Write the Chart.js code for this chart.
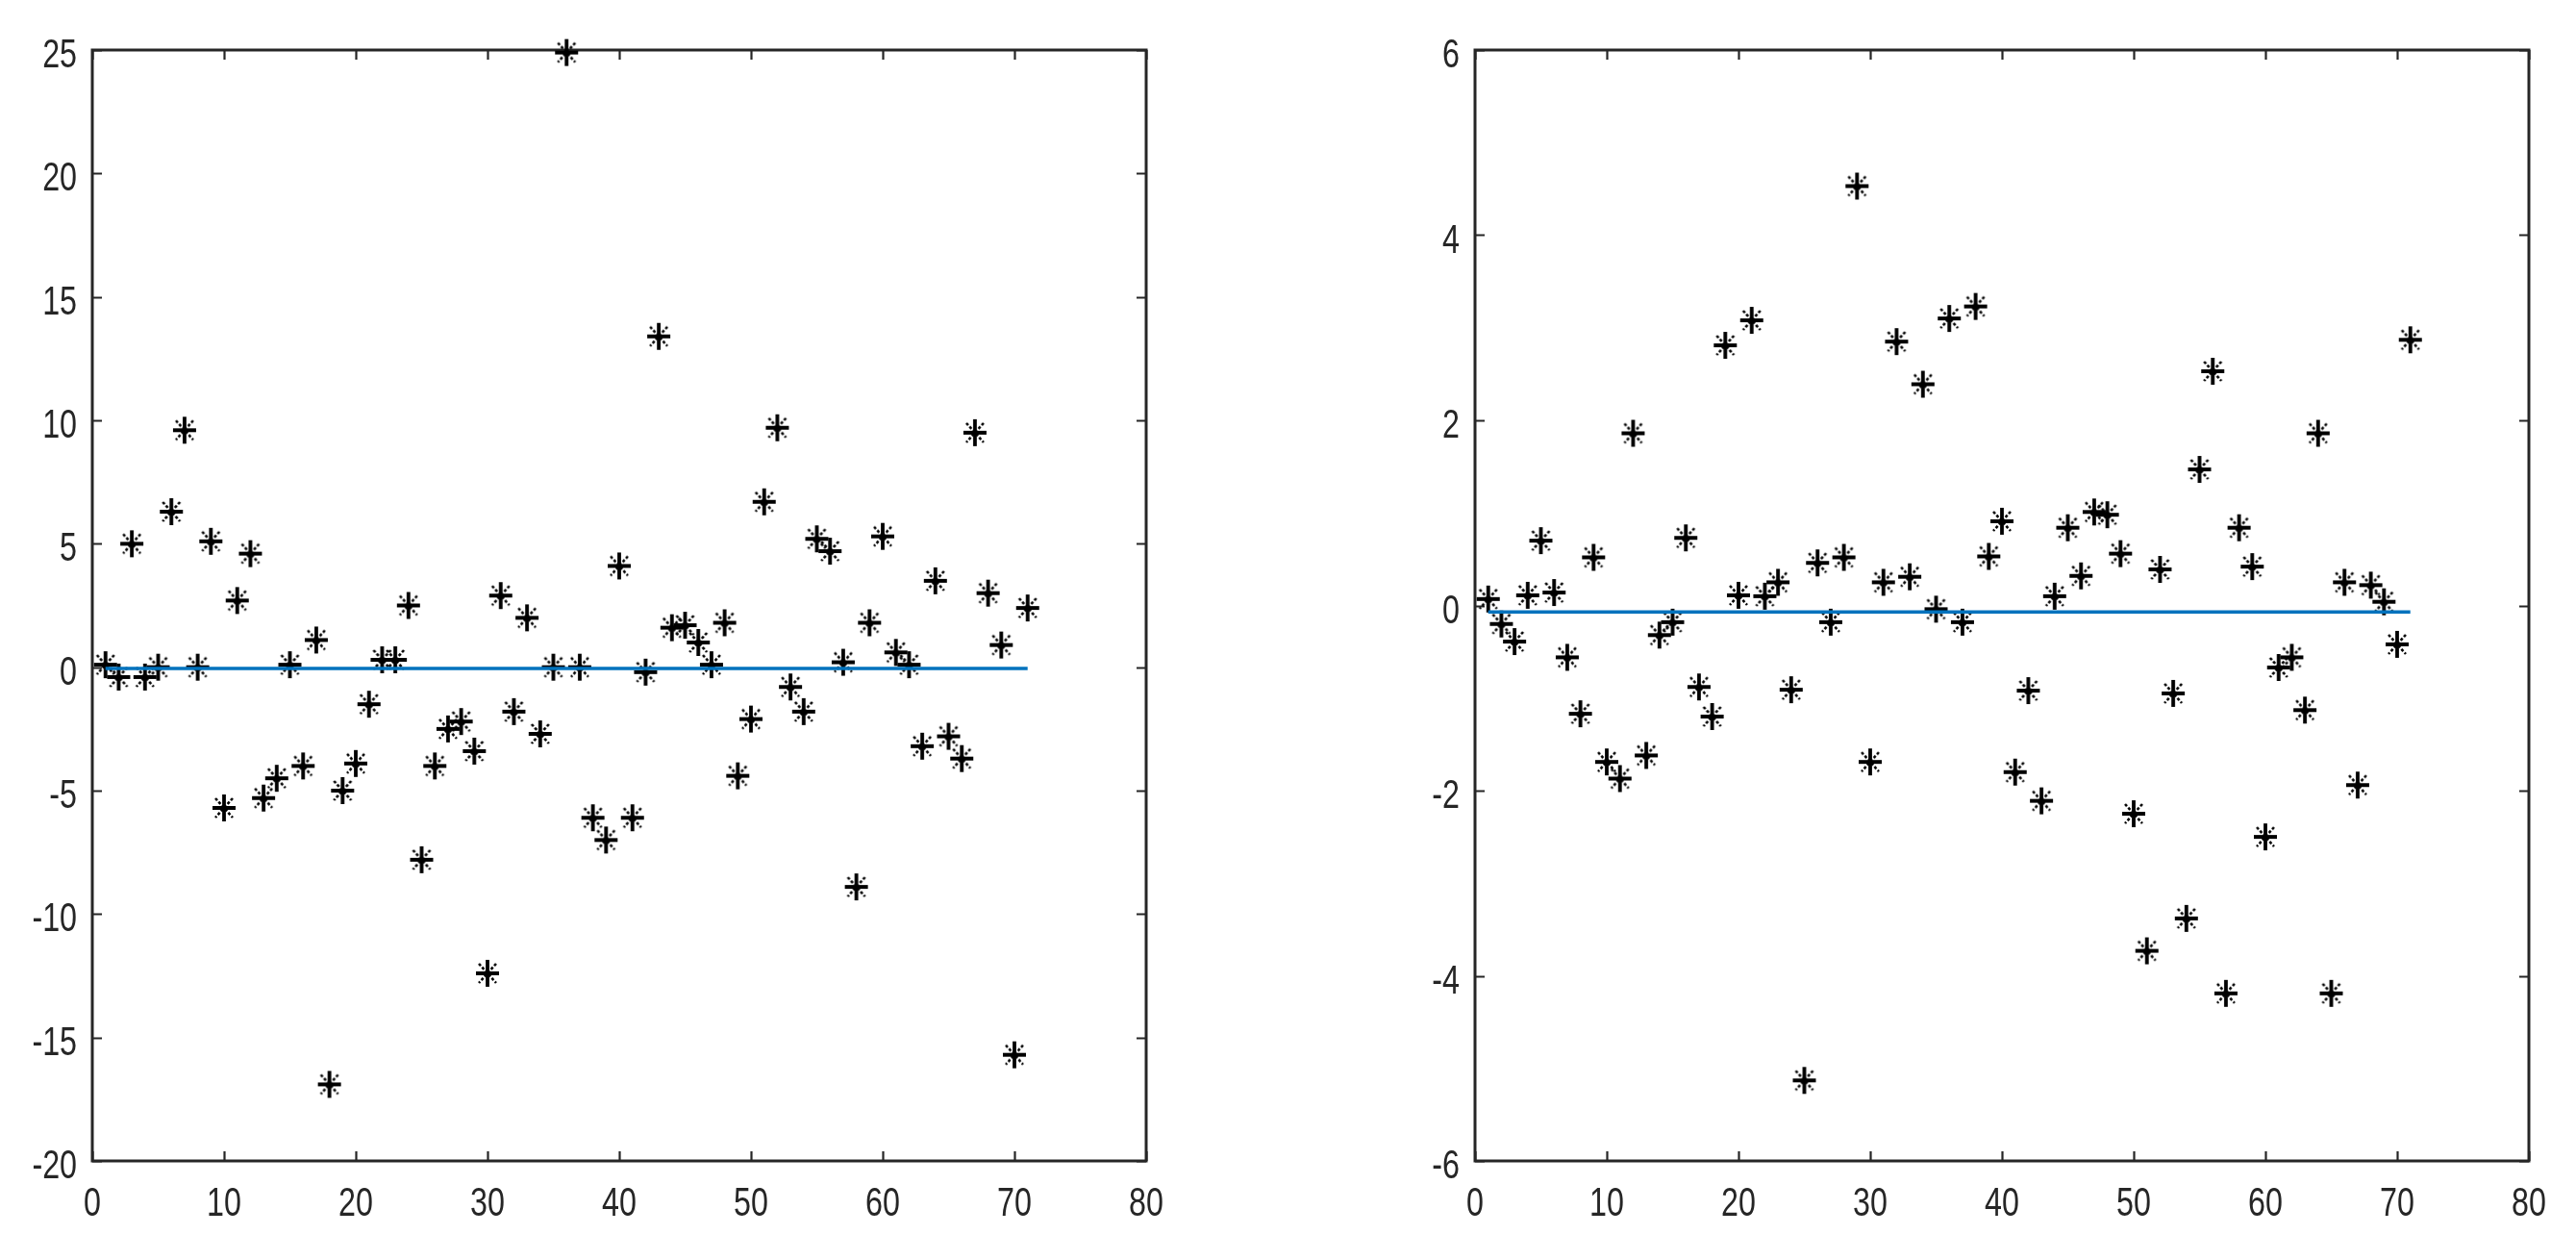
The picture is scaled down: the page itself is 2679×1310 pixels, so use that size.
<!DOCTYPE html>
<html lang="en">
<head>
<meta charset="UTF-8">
<title>Residuals</title>
<style>
  html, body { margin: 0; padding: 0; background: #fff; }
  body { width: 2679px; height: 1310px; position: relative; overflow: hidden; }
  .wrap { position: absolute; top: 0; height: 1310px; }
  #w1 { left: 0; width: 1300px; }
  #w2 { left: 1438px; width: 1241px; }
</style>
</head>
<body>
<div class="wrap" id="w1"><canvas id="left"></canvas></div>
<div class="wrap" id="w2"><canvas id="right"></canvas></div>

<script src="https://cdn.jsdelivr.net/npm/chart.js"></script>
<script>
// sample index
const sampleNo = [1,2,3,4,5,6,7,8,9,10,11,12,13,14,15,16,17,18,19,20,
  21,22,23,24,25,26,27,28,29,30,31,32,33,34,35,36,37,38,39,40,
  41,42,43,44,45,46,47,48,49,50,51,52,53,54,55,56,57,58,59,60,
  61,62,63,64,65,66,67,68,69,70,71];

// left panel values
const leftVals = [0.1,-0.4,5.0,-0.4,0.0,6.3,9.6,0.0,5.1,-5.7,
  2.7,4.6,-5.3,-4.5,0.1,-4.0,1.1,-16.9,-5.0,-3.9,
  -1.5,0.3,0.3,2.5,-7.8,-4.0,-2.5,-2.2,-3.4,-12.4,
  2.9,-1.8,2.0,-2.7,0.0,24.9,0.0,-6.1,-7.0,4.1,
  -6.1,-0.2,13.4,1.6,1.7,1.0,0.1,1.8,-4.4,-2.1,
  6.7,9.7,-0.8,-1.8,5.2,4.7,0.2,-8.9,1.8,5.3,
  0.6,0.1,-3.2,3.5,-2.8,-3.7,9.5,3.0,0.9,-15.7,2.4];

// right panel values
const rightVals = [0.07,-0.2,-0.39,0.11,0.7,0.14,-0.56,-1.17,0.52,-1.69,
  -1.87,1.86,-1.62,-0.32,-0.18,0.73,-0.88,-1.2,2.81,0.11,
  3.08,0.1,0.25,-0.91,-5.13,0.46,-0.18,0.52,4.53,-1.69,
  0.25,2.85,0.31,2.39,-0.04,3.1,-0.18,3.23,0.53,0.91,
  -1.8,-0.92,-2.11,0.1,0.84,0.32,1.01,0.98,0.56,-2.25,
  -3.73,0.39,-0.95,-3.38,1.47,2.53,-4.19,0.84,0.42,-2.5,
  -0.67,-0.56,-1.13,1.86,-4.19,0.25,-1.94,0.22,0.04,-0.42,2.87];

// mean lines (x from, x to / level)
const lineX = [1, 71];
const leftLevel = [-0.05, -0.05];
const rightLevel = [-0.07, -0.07];

// tick labels
const xTicks = [0,10,20,30,40,50,60,70,80];
const yTicksLeft = [-20,-15,-10,-5,0,5,10,15,20,25];
const yTicksRight = [-6,-4,-2,0,2,4,6];

const axisColor = '#262626';
const labelFont = "43px 'Liberation Sans', Arial, sans-serif";
const squeeze = 0.75; // the original labels are horizontally compressed

// asterisk marker like matlab '*'
function makeStar() {
  const c = document.createElement('canvas');
  c.width = 26; c.height = 30;
  const g = c.getContext('2d');
  g.strokeStyle = '#000';
  g.lineCap = 'butt';
  g.lineWidth = 3.8;
  g.beginPath();
  g.moveTo(13, 1); g.lineTo(13, 29);
  g.moveTo(1, 15); g.lineTo(25, 15);
  g.stroke();
  g.lineWidth = 2.6;
  g.setLineDash([3, 2]);
  g.beginPath();
  g.moveTo(4, 5); g.lineTo(22, 25);
  g.moveTo(22, 5); g.lineTo(4, 25);
  g.stroke();
  return c;
}
const star = makeStar();

// box, inward ticks and tick labels
const boxPlugin = {
  id: 'matlabBox',
  beforeDatasetsDraw(chart) {
    const { ctx, chartArea: { left, right, top, bottom }, scales: { x, y } } = chart;
    const len = 10;
    ctx.save();
    ctx.strokeStyle = axisColor;
    ctx.lineWidth = 2.2;
    ctx.beginPath();
    x.ticks.forEach(t => {
      const px = Math.round(x.getPixelForValue(t.value)) + 0.5;
      ctx.moveTo(px, bottom); ctx.lineTo(px, bottom - len);
      ctx.moveTo(px, top); ctx.lineTo(px, top + len);
    });
    y.ticks.forEach(t => {
      const py = Math.round(y.getPixelForValue(t.value)) + 0.5;
      ctx.moveTo(left, py); ctx.lineTo(left + len, py);
      ctx.moveTo(right, py); ctx.lineTo(right - len, py);
    });
    ctx.stroke();
    ctx.lineWidth = 3;
    ctx.strokeRect(left, top, right - left, bottom - top);

    ctx.fillStyle = axisColor;
    ctx.font = labelFont;
    ctx.textBaseline = 'alphabetic';
    ctx.textAlign = 'center';
    x.ticks.forEach(t => {
      const s = String(t.value);
      const w = ctx.measureText(s).width;
      ctx.fillText(s, x.getPixelForValue(t.value), bottom + 57, w * squeeze);
    });
    ctx.textAlign = 'right';
    y.ticks.forEach(t => {
      const s = String(t.value);
      const w = ctx.measureText(s).width;
      ctx.fillText(s, left - 16, y.getPixelForValue(t.value) + 18, w * squeeze);
    });
    ctx.restore();
  }
};

function makeChart(id, vals, level, yMin, yMax, yTicks, padRight) {
  const pts = sampleNo.map((n, i) => ({ x: n, y: vals[i] }));
  const line = lineX.map((n, i) => ({ x: n, y: level[i] }));
  return new Chart(document.getElementById(id), {
    type: 'scatter',
    data: {
      datasets: [
        {
          type: 'line',
          data: line,
          borderColor: '#0072BD',
          borderWidth: 3.5,
          pointRadius: 0,
          clip: false
        },
        {
          data: pts,
          pointStyle: star,
          pointRadius: 13,
          clip: false
        }
      ]
    },
    plugins: [boxPlugin],
    options: {
      responsive: true,
      maintainAspectRatio: false,
      animation: false,
      layout: { padding: { top: 52, right: padRight, bottom: 0, left: 0 } },
      plugins: { legend: { display: false }, tooltip: { enabled: false } },
      scales: {
        x: {
          type: 'linear', min: 0, max: 80,
          afterBuildTicks: s => { s.ticks = xTicks.map(v => ({ value: v })); },
          afterFit: s => { s.height = 103; s.paddingLeft = 0; s.paddingRight = 0; },
          grid: { display: false, drawTicks: false },
          border: { display: false },
          ticks: { display: false }
        },
        y: {
          type: 'linear', min: yMin, max: yMax,
          afterBuildTicks: s => { s.ticks = yTicks.map(v => ({ value: v })); },
          afterFit: s => { s.width = 96; s.paddingTop = 0; s.paddingBottom = 0; },
          grid: { display: false, drawTicks: false },
          border: { display: false },
          ticks: { display: false }
        }
      }
    }
  });
}

makeChart('left', leftVals, leftLevel, -20, 25, yTicksLeft, 108);
makeChart('right', rightVals, rightLevel, -6, 6, yTicksRight, 49);
</script>
</body>
</html>
